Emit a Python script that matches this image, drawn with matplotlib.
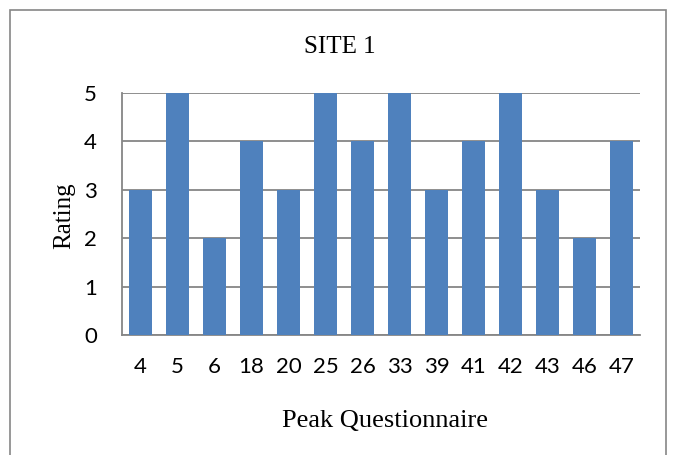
import matplotlib.pyplot as plt
from matplotlib.patches import Rectangle

# chart data
questions = ['4', '5', '6', '18', '20', '25', '26', '33', '39', '41', '42', '43', '46', '47']
ratings = [3, 5, 2, 4, 3, 5, 4, 5, 3, 4, 5, 3, 2, 4]

W, H = 674, 455
fig = plt.figure(figsize=(W / 100, H / 100), dpi=100)

# outer frame like an Excel chart area
fig.patches.append(Rectangle((10 / W, -0.01), 656 / W, 1 - 10 / H + 0.01,
                             transform=fig.transFigure, fill=False,
                             edgecolor='#868686', linewidth=1.2))

# plot area in pixels: left 122, right 640, top 93, bottom 335
ax = fig.add_axes([122 / W, 1 - 335 / H, (640 - 122) / W, (335 - 93) / H])

x = range(len(questions))
ax.bar(x, ratings, width=0.62, color='#4F81BD', zorder=3)

ax.set_xlim(-0.5, len(questions) - 0.5)
ax.set_ylim(0, 5)
ax.set_yticks(range(6))
ax.set_xticks(list(x))
ax.set_xticklabels(questions)
ax.yaxis.grid(True, color='#868686', linewidth=1.3, zorder=0)

for side in ['top', 'right']:
    ax.spines[side].set_visible(False)
for side in ['left', 'bottom']:
    ax.spines[side].set_color('#868686')
    ax.spines[side].set_linewidth(1.3)

ax.tick_params(axis='both', length=0, labelsize=16)
ax.tick_params(axis='x', pad=16)
ax.tick_params(axis='y', pad=18)
for lbl in ax.get_xticklabels() + ax.get_yticklabels():
    lbl.set_fontfamily('Lato')

serif = 'Liberation Serif'
fig.text(340 / W, 1 - 47 / H, 'SITE 1', ha='center', va='center',
         fontsize=18, family=serif)
fig.text(385 / W, 1 - 421 / H, 'Peak Questionnaire', ha='center', va='center',
         fontsize=19, family=serif)
fig.text(64 / W, 1 - 216 / H, 'Rating', ha='center', va='center',
         rotation=90, fontsize=18, family=serif)

fig.savefig('out.png', dpi=100)
